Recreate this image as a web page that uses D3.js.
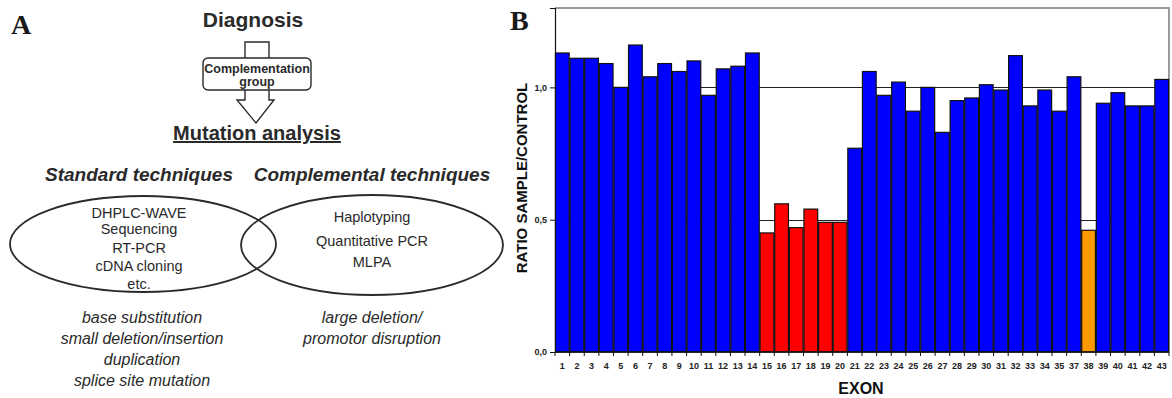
<!DOCTYPE html>
<html>
<head>
<meta charset="utf-8">
<script src="https://cdn.jsdelivr.net/npm/d3@7"></script>
<style>
  html, body { margin: 0; padding: 0; background: #fff; }
  svg { display: block; }
  text { font-family: "Liberation Sans", Arial, sans-serif; }
</style>
</head>
<body>
<div id="figure"></div>
<script>
// exon labels as printed on the x axis (36 is not shown)
const exons = ["1", "2", "3", "4", "5", "6", "7", "8", "9", "10",
  "11", "12", "13", "14", "15", "16", "17", "18", "19", "20",
  "21", "22", "23", "24", "25", "26", "27", "28", "29", "30",
  "31", "32", "33", "34", "35", "37", "38", "39", "40", "41", "42", "43"];

const ratios = [1.13, 1.11, 1.11, 1.09, 1.00, 1.16, 1.04, 1.09, 1.06, 1.10,
  0.97, 1.07, 1.08, 1.13, 0.45, 0.56, 0.47, 0.54, 0.49, 0.49,
  0.77, 1.06, 0.97, 1.02, 0.91, 1.00, 0.83, 0.95, 0.96, 1.01,
  0.99, 1.12, 0.93, 0.99, 0.91, 1.04, 0.46, 0.94, 0.98, 0.93, 0.93, 1.03];

const deletedExons = ["15", "16", "17", "18", "19", "20"];
const partialExons = ["38"];

const yTicks = [0, 0.5, 1.0];
const refLines = [0.5, 1.0];

const standardTechniques = ["DHPLC-WAVE", "Sequencing", "RT-PCR", "cDNA cloning", "etc."];
const complementalTechniques = ["Haplotyping", "Quantitative PCR", "MLPA"];
const standardMutations = ["base substitution", "small deletion/insertion", "duplication", "splice site mutation"];
const complementalMutations = ["large deletion/", "promotor disruption"];

const width = 1172;
const height = 398;

const svg = d3
  .select("#figure")
  .append("svg")
  .attr("width", width)
  .attr("height", height)
  .attr("viewBox", [0, 0, width, height]);

// ---------- panel A: workflow diagram ----------
const ink = "#2a2a2a";
const a = svg.append("g").attr("id", "panelA");

a.append("text")
  .attr("x", 11).attr("y", 34)
  .style("font-family", "'Liberation Serif', 'Times New Roman', serif")
  .style("font-weight", "bold").style("font-size", "28px")
  .attr("fill", "#1a1a1a")
  .text("A");

a.append("text")
  .attr("x", 253).attr("y", 27)
  .attr("text-anchor", "middle")
  .style("font-weight", "bold").style("font-size", "21px")
  .attr("fill", ink)
  .text("Diagnosis");

// block arrow, box sits on top of it
const cx = 257;
const arrowPath = d3.path();
arrowPath.moveTo(cx - 12, 42);
arrowPath.lineTo(cx + 12, 42);
arrowPath.lineTo(cx + 12, 100);
arrowPath.lineTo(cx + 17, 100);
arrowPath.lineTo(cx - 1, 123);
arrowPath.lineTo(cx - 20, 100);
arrowPath.lineTo(cx - 12, 100);
arrowPath.closePath();
a.append("path")
  .attr("d", arrowPath.toString())
  .attr("fill", "#fff").attr("stroke", ink).attr("stroke-width", 1.4);

a.append("rect")
  .attr("x", 203).attr("y", 58).attr("width", 108).attr("height", 32)
  .attr("rx", 5)
  .attr("fill", "#fff").attr("stroke", ink).attr("stroke-width", 1.4);

a.append("text")
  .attr("x", cx).attr("y", 73)
  .attr("text-anchor", "middle")
  .style("font-weight", "bold").style("font-size", "12.5px")
  .attr("fill", ink)
  .text("Complementation");
a.append("text")
  .attr("x", cx).attr("y", 86)
  .attr("text-anchor", "middle")
  .style("font-weight", "bold").style("font-size", "12.5px")
  .attr("fill", ink)
  .text("group");

a.append("text")
  .attr("x", 257).attr("y", 140)
  .attr("text-anchor", "middle")
  .style("font-weight", "bold").style("font-size", "20px")
  .style("text-decoration", "underline")
  .attr("fill", ink)
  .text("Mutation analysis");

a.append("text")
  .attr("x", 139).attr("y", 181)
  .attr("text-anchor", "middle")
  .style("font-weight", "bold").style("font-style", "italic").style("font-size", "19px")
  .attr("fill", ink)
  .text("Standard techniques");
a.append("text")
  .attr("x", 372).attr("y", 181)
  .attr("text-anchor", "middle")
  .style("font-weight", "bold").style("font-style", "italic").style("font-size", "19px")
  .attr("fill", ink)
  .text("Complemental techniques");

a.append("ellipse")
  .attr("cx", 143).attr("cy", 244).attr("rx", 133).attr("ry", 48)
  .attr("fill", "none").attr("stroke", ink).attr("stroke-width", 1.8);
a.append("ellipse")
  .attr("cx", 372).attr("cy", 245).attr("rx", 131).attr("ry", 50)
  .attr("fill", "none").attr("stroke", ink).attr("stroke-width", 1.8);

const stdY = [218, 234, 253, 271, 289];
a.selectAll(".std")
  .data(standardTechniques)
  .join("text")
  .attr("class", "std")
  .attr("x", 139)
  .attr("y", (d, i) => stdY[i])
  .attr("text-anchor", "middle")
  .style("font-size", "14.5px")
  .attr("fill", ink)
  .text((d) => d);

const compY = [222, 246, 267];
a.selectAll(".comp")
  .data(complementalTechniques)
  .join("text")
  .attr("class", "comp")
  .attr("x", 372)
  .attr("y", (d, i) => compY[i])
  .attr("text-anchor", "middle")
  .style("font-size", "14.5px")
  .attr("fill", ink)
  .text((d) => d);

a.selectAll(".stdMut")
  .data(standardMutations)
  .join("text")
  .attr("class", "stdMut")
  .attr("x", 142)
  .attr("y", (d, i) => 323 + i * 21)
  .attr("text-anchor", "middle")
  .style("font-style", "italic").style("font-size", "16px")
  .attr("fill", ink)
  .text((d) => d);

a.selectAll(".compMut")
  .data(complementalMutations)
  .join("text")
  .attr("class", "compMut")
  .attr("x", 372)
  .attr("y", (d, i) => 323 + i * 21)
  .attr("text-anchor", "middle")
  .style("font-style", "italic").style("font-size", "16px")
  .attr("fill", ink)
  .text((d) => d);

// ---------- panel B: exon ratio bars ----------
const marginLeft = 555;
const marginRight = 3;
const marginTop = 8;
const plotBottom = 352;

const b = svg.append("g").attr("id", "panelB");

b.append("text")
  .attr("x", 510).attr("y", 30)
  .style("font-family", "'Liberation Serif', 'Times New Roman', serif")
  .style("font-weight", "bold").style("font-size", "28px")
  .attr("fill", "#1a1a1a")
  .text("B");

const x = d3
  .scaleBand()
  .domain(exons)
  .range([marginLeft, width - marginRight])
  .paddingInner(0.06)
  .paddingOuter(0.03);

const y = d3
  .scaleLinear()
  .domain([0, 1.3])
  .range([plotBottom, marginTop]);

// frame (top and right) in grey
b.append("path")
  .attr("d", `M${marginLeft},${y(1.3)}H${width - marginRight}V${plotBottom}`)
  .attr("fill", "none").attr("stroke", "#9a9a9a").attr("stroke-width", 2);

// reference lines behind the bars
b.selectAll(".ref")
  .data(refLines)
  .join("line")
  .attr("class", "ref")
  .attr("x1", marginLeft).attr("x2", width - marginRight)
  .attr("y1", (d) => Math.round(y(d)) + 0.5)
  .attr("y2", (d) => Math.round(y(d)) + 0.5)
  .attr("stroke", "#222").attr("stroke-width", 1);

const barColor = (d) =>
  deletedExons.includes(d) ? "#ff0000" : partialExons.includes(d) ? "#ff9900" : "#0000ff";

b.selectAll(".bar")
  .data(exons)
  .join("rect")
  .attr("class", "bar")
  .attr("x", (d) => x(d))
  .attr("y", (d, i) => y(ratios[i]))
  .attr("width", x.bandwidth())
  .attr("height", (d, i) => y(0) - y(ratios[i]))
  .attr("fill", barColor)
  .attr("stroke", "#111")
  .attr("stroke-width", 1.2);

// y axis
const yAxis = b
  .append("g")
  .attr("transform", `translate(${marginLeft},0)`)
  .call(
    d3.axisLeft(y)
      .tickValues(yTicks)
      .tickSize(5)
      .tickPadding(3)
      .tickFormat((d) => d.toFixed(1).replace(".", ","))
  );
yAxis.select(".domain").attr("stroke", "#111").attr("stroke-width", 1.2);
yAxis.selectAll(".tick line").attr("stroke", "#111");
yAxis.selectAll(".tick text")
  .style("font-family", "'Liberation Sans', Arial, sans-serif")
  .style("font-weight", "bold").style("font-size", "9px")
  .attr("fill", "#222");

// x axis: labels centred on bars, ticks between bars
const xAxis = b
  .append("g")
  .attr("transform", `translate(0,${plotBottom})`)
  .call(d3.axisBottom(x).tickSize(0).tickPadding(11));
xAxis.select(".domain").remove();
xAxis.selectAll(".tick text")
  .style("font-family", "'Liberation Sans', Arial, sans-serif")
  .style("font-weight", "bold").style("font-size", "9px")
  .attr("fill", "#222");

const gap = x.step() * x.paddingInner();
const tickXs = exons.map((d) => x(d) - gap / 2).concat([x(exons[exons.length - 1]) + x.bandwidth() + gap / 2]);
b.append("line")
  .attr("x1", marginLeft).attr("x2", width - marginRight)
  .attr("y1", plotBottom).attr("y2", plotBottom)
  .attr("stroke", "#111").attr("stroke-width", 1.5);
b.selectAll(".xtick")
  .data(tickXs)
  .join("line")
  .attr("class", "xtick")
  .attr("x1", (d) => d).attr("x2", (d) => d)
  .attr("y1", plotBottom).attr("y2", plotBottom + 4)
  .attr("stroke", "#111").attr("stroke-width", 1);

b.append("text")
  .attr("transform", "translate(527,178) rotate(-90)")
  .attr("text-anchor", "middle")
  .style("font-weight", "bold").style("font-size", "15px")
  .attr("fill", "#111")
  .text("RATIO SAMPLE/CONTROL");

b.append("text")
  .attr("x", 861).attr("y", 394)
  .attr("text-anchor", "middle")
  .style("font-weight", "bold").style("font-size", "16px")
  .attr("fill", "#111")
  .text("EXON");
</script>
</body>
</html>
